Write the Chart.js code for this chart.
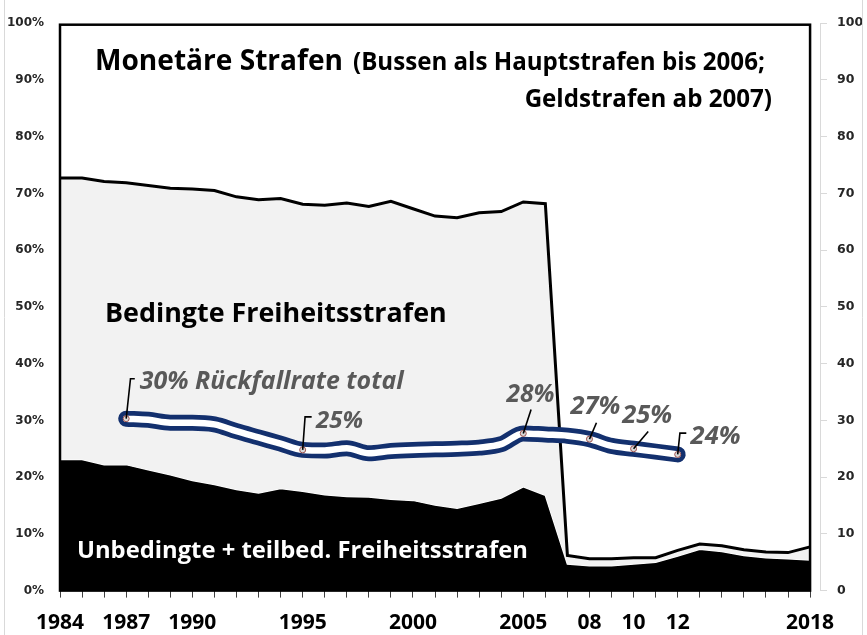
<!DOCTYPE html>
<html>
<head>
<meta charset="utf-8">
<script src="https://cdn.jsdelivr.net/npm/chart.js@4.4.0/dist/chart.umd.min.js"></script>
<style>
  html, body { margin: 0; padding: 0; background: #fff; }
  canvas { display: block; }
</style>
</head>
<body>
<canvas id="chart" width="867" height="635"></canvas>
<script>
const years = [1984, 1985, 1986, 1987, 1988, 1989, 1990, 1991, 1992, 1993, 1994, 1995,
  1996, 1997, 1998, 1999, 2000, 2001, 2002, 2003, 2004, 2005, 2006, 2007, 2008, 2009,
  2010, 2011, 2012, 2013, 2014, 2015, 2016, 2017, 2018];

// Unbedingte + teilbedingte Freiheitsstrafen (Anteil in %)
const unbedingt = [23.1, 23.1, 22.2, 22.2, 21.3, 20.4, 19.4, 18.7, 17.8, 17.2, 18.0, 17.5,
  16.9, 16.6, 16.5, 16.1, 15.9, 15.1, 14.5, 15.4, 16.3, 18.3, 16.8, 4.7, 4.4, 4.4,
  4.7, 5.0, 6.1, 7.3, 6.9, 6.2, 5.8, 5.6, 5.4];

// alle Freiheitsstrafen (unbedingt + bedingt), Oberkante der grauen Flaeche
const freiheitTotal = [72.7, 72.7, 72.1, 71.9, 71.4, 70.9, 70.8, 70.5, 69.4, 68.9, 69.1, 68.1,
  67.9, 68.3, 67.7, 68.6, 67.3, 66.0, 65.7, 66.6, 66.8, 68.5, 68.2, 6.2, 5.6, 5.6,
  5.8, 5.8, 7.1, 8.2, 7.9, 7.2, 6.8, 6.7, 7.7];

const recidYears = [1987, 1988, 1989, 1990, 1991, 1992, 1993, 1994, 1995, 1996, 1997, 1998,
  1999, 2000, 2001, 2002, 2003, 2004, 2005, 2006, 2007, 2008, 2009, 2010, 2011, 2012];
const recidRates = [30.3, 30.1, 29.6, 29.6, 29.3, 28.1, 27.0, 25.9, 24.8, 24.7, 25.1, 24.2,
  24.6, 24.8, 24.9, 25.0, 25.2, 25.8, 27.7, 27.5, 27.3, 26.7, 25.5, 25.0, 24.5, 24.0];

const markedYears = [1987, 1995, 2005, 2008, 2010, 2012];
const markedTexts = ['30% Rückfallrate total', '25%', '28%', '27%', '25%', '24%'];

const tickYears = [1984, 1987, 1990, 1995, 2000, 2005, 2008, 2010, 2012, 2018];
const tickTexts = ['1984', '1987', '1990', '1995', '2000', '2005', '08', '10', '12', '2018'];

// label placement relative to the marker: text left/baseline, width, leader path
const calloutStyle = [
  { dx: 13.6, dy: -29.3, w: 264, path: [[0, 0], [4.3, -40], [8.6, -40]] },
  { dx: 13.4, dy: -22.3, w: 47, path: [[0, 0], [2.4, -33], [9, -33]] },
  { dx: -16.9, dy: -31.7, w: 48, path: [[0, 0], [7.8, -24]] },
  { dx: -19, dy: -25.4, w: 50, path: [[0, 0], [7, -16.4]] },
  { dx: -11.4, dy: -26.2, w: 50, path: [[0, 0], [14.6, -17.2]] },
  { dx: 12.9, dy: -10.9, w: 50, path: [[0, 0], [2.2, -21.3], [8.6, -21.3]] },
];

const FONT = '"Open Sans", "Noto Sans", sans-serif';

function fitFont(ctx, text, width, style) {
  ctx.font = `${style} 20px ${FONT}`;
  const size = (20 * width) / ctx.measureText(text).width;
  ctx.font = `${style} ${size}px ${FONT}`;
  return size;
}

const overlayPlugin = {
  id: 'overlay',
  afterDatasetsDraw(chart) {
    const { ctx, chartArea } = chart;
    const x = chart.scales.x;
    const y = chart.scales.y;
    ctx.save();

    // outer frame
    ctx.strokeStyle = '#d9d9d9';
    ctx.lineWidth = 1;
    ctx.beginPath();
    ctx.moveTo(4.5, 0);
    ctx.lineTo(4.5, 635);
    ctx.moveTo(862.5, 0);
    ctx.lineTo(862.5, 635);
    ctx.stroke();

    // plot box
    const left = x.getPixelForValue(1984);
    const right = x.getPixelForValue(2018);
    const top = chartArea.top + 1.5;
    const bottom = y.getPixelForValue(0);
    ctx.strokeStyle = '#000';
    ctx.lineWidth = 2.5;
    ctx.strokeRect(left, top, right - left, bottom - top);

    // area labels
    ctx.textAlign = 'left';
    ctx.textBaseline = 'alphabetic';
    ctx.fillStyle = '#000';
    fitFont(ctx, 'Monetäre Strafen', 248, 'bold');
    ctx.fillText('Monetäre Strafen', 95, 70);
    const sub = fitFont(ctx, '(Bussen als Hauptstrafen bis 2006;', 412, 'bold');
    ctx.fillText('(Bussen als Hauptstrafen bis 2006;', 353, 70);
    ctx.font = `bold ${sub}px ${FONT}`;
    ctx.textAlign = 'right';
    ctx.fillText('Geldstrafen ab 2007)', 772, 107);
    ctx.textAlign = 'left';
    fitFont(ctx, 'Bedingte Freiheitsstrafen', 342, 'bold');
    ctx.fillText('Bedingte Freiheitsstrafen', 105, 321.5);
    ctx.fillStyle = '#fff';
    fitFont(ctx, 'Unbedingte + teilbed. Freiheitsstrafen', 451, 'bold');
    ctx.fillText('Unbedingte + teilbed. Freiheitsstrafen', 77, 558.3);

    // callouts for the recidivism rates
    markedYears.forEach((year, i) => {
      const px = x.getPixelForValue(year);
      const py = y.getPixelForValue(recidRates[recidYears.indexOf(year)]);
      const c = calloutStyle[i];
      ctx.strokeStyle = '#000';
      ctx.lineWidth = 1.6;
      ctx.beginPath();
      c.path.forEach(([ox, oy], k) => {
        if (k === 0) ctx.moveTo(px + ox, py + oy);
        else ctx.lineTo(px + ox, py + oy);
      });
      ctx.stroke();
      ctx.fillStyle = '#595959';
      fitFont(ctx, markedTexts[i], c.w, 'italic bold');
      ctx.fillText(markedTexts[i], px + c.dx, py + c.dy);
    });

    ctx.restore();
  },
};

const recidPoints = recidYears.map((yr, i) => ({ x: yr, y: recidRates[i] }));

new Chart(document.getElementById('chart'), {
  type: 'line',
  data: {
    labels: years,
    datasets: [
      {
        data: recidPoints,
        borderColor: '#ffffff',
        borderWidth: 6.5,
        borderCapStyle: 'round',
        borderJoinStyle: 'round',
        cubicInterpolationMode: 'monotone',
        fill: false,
        pointRadius: (c) => (c.raw && markedYears.includes(c.raw.x) ? 3 : 0),
        pointBorderColor: '#a0524d',
        pointBackgroundColor: '#d9d9d9',
        pointBorderWidth: 1,
      },
      {
        data: recidPoints,
        borderColor: '#13306e',
        borderWidth: 16,
        borderCapStyle: 'round',
        borderJoinStyle: 'round',
        cubicInterpolationMode: 'monotone',
        fill: false,
        pointRadius: 0,
      },
      {
        data: years.map((yr, i) => ({ x: yr, y: freiheitTotal[i] })),
        borderColor: '#000',
        borderWidth: 3,
        backgroundColor: '#f2f2f2',
        fill: '+1',
        tension: 0,
        pointRadius: 0,
      },
      {
        data: years.map((yr, i) => ({ x: yr, y: unbedingt[i] })),
        borderColor: '#ffffff',
        borderWidth: 1.5,
        backgroundColor: '#000',
        fill: 'origin',
        tension: 0,
        pointRadius: 0,
      },
    ],
  },
  options: {
    responsive: false,
    animation: false,
    devicePixelRatio: 1,
    layout: { padding: { top: 19.6, left: 0, right: 0, bottom: 0 } },
    plugins: { legend: { display: false }, tooltip: { enabled: false } },
    scales: {
      x: {
        type: 'linear',
        min: 1984,
        max: 2018.45,
        afterFit: (s) => { s.height = 44.4; },
        afterBuildTicks: (s) => { s.ticks = years.map((v) => ({ value: v })); },
        ticks: {
          autoSkip: false,
          maxRotation: 0,
          padding: 13,
          color: '#000',
          font: { family: FONT, size: 21, weight: 'bold' },
          callback: (v) => {
            const k = tickYears.indexOf(v);
            return k >= 0 ? tickTexts[k] : '';
          },
        },
        grid: { drawOnChartArea: false, drawTicks: true, tickLength: 7, color: '#404040' },
        border: { display: false },
      },
      y: {
        position: 'left',
        min: 0,
        max: 100,
        afterFit: (s) => { s.width = 60; },
        ticks: {
          stepSize: 10,
          padding: 16,
          color: '#262626',
          font: { family: 'DejaVu Sans', size: 12, weight: 'bold' },
          callback: (v) => v + '%',
        },
        grid: { display: false, drawTicks: false },
        border: { display: false },
      },
      y2: {
        position: 'right',
        min: 0,
        max: 100,
        afterFit: (s) => { s.width = 47; },
        ticks: {
          stepSize: 10,
          padding: 10,
          color: '#262626',
          font: { family: 'DejaVu Sans', size: 12.5, weight: 'bold' },
        },
        grid: { drawOnChartArea: false, tickLength: 7, color: '#d9d9d9' },
        border: { display: true, color: '#d9d9d9', width: 1 },
      },
    },
  },
  plugins: [overlayPlugin],
});
</script>
</body>
</html>
